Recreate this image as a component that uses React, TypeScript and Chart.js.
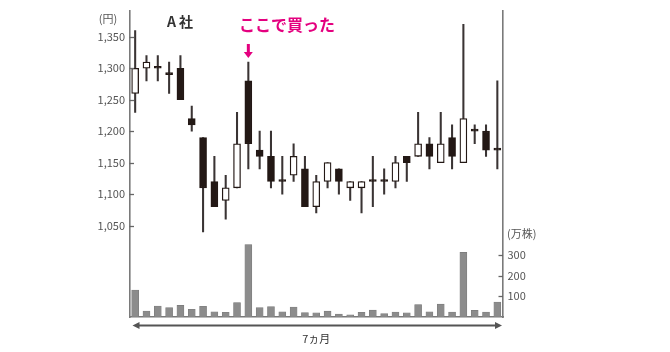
import React, { useEffect, useRef } from "react";
import { Chart, registerables } from "chart.js";

Chart.register(...registerables);

// ---- data ----
const days = [
  "1", "2", "3", "4", "5", "6", "7", "8", "9", "10", "11",
  "12", "13", "14", "15", "16", "17", "18", "19", "20", "21", "22",
  "23", "24", "25", "26", "27", "28", "29", "30", "31", "32", "33",
];
const openPrice = [
  1260, 1300, 1300, 1290, 1300, 1220, 1190, 1120, 1090, 1110, 1280,
  1170, 1160, 1120, 1130, 1140, 1080, 1120, 1140, 1110, 1110, 1120,
  1120, 1120, 1160, 1160, 1180, 1150, 1190, 1150, 1200, 1200, 1170,
];
const closePrice = [
  1300, 1310, 1300, 1290, 1250, 1210, 1110, 1080, 1110, 1180, 1180,
  1160, 1120, 1120, 1160, 1080, 1120, 1150, 1120, 1120, 1120, 1120,
  1120, 1150, 1150, 1180, 1160, 1180, 1160, 1220, 1200, 1170, 1170,
];
const highPrice = [
  1360, 1320, 1320, 1310, 1320, 1240, 1190, 1160, 1130, 1230, 1310,
  1200, 1200, 1160, 1180, 1160, 1130, 1150, 1140, 1120, 1120, 1160,
  1140, 1160, 1160, 1230, 1190, 1230, 1210, 1370, 1210, 1210, 1280,
];
const lowPrice = [
  1230, 1280, 1280, 1260, 1250, 1200, 1040, 1080, 1060, 1110, 1140,
  1140, 1110, 1100, 1120, 1080, 1070, 1110, 1100, 1090, 1070, 1080,
  1100, 1110, 1120, 1160, 1140, 1150, 1140, 1150, 1180, 1160, 1140,
];
const volume = [
  130, 29, 53, 45, 56, 37, 52, 25, 23, 70, 350,
  45, 50, 25, 48, 21, 20, 28, 14, 10, 23, 33,
  16, 24, 20, 60, 25, 62, 24, 312, 32, 24, 72,
];
const priceTicks = [1050, 1100, 1150, 1200, 1250, 1300, 1350];
const volumeTicks = [100, 200, 300];
const boughtIndex = 10;

const title = "A 社";
const boughtLabel = "ここで買った";
const periodLabel = "7ヵ月";
const priceUnit = "(円)";
const volumeUnit = "(万株)";

const INK = "#231815";
const AXIS = "#7a7a7a";
const PINK = "#e4007f";

export default function App() {
  const canvasRef = useRef<HTMLCanvasElement | null>(null);

  useEffect(() => {
    const canvas = canvasRef.current;
    if (!canvas) return;
    Chart.defaults.font.family = "'Noto Sans CJK JP', 'Noto Sans', sans-serif";

    const wickData = days.map((_, i) => [lowPrice[i], highPrice[i]]);
    const bodyData = days.map((_, i) => [openPrice[i], closePrice[i]]);
    const bodyFill = days.map((_, i) =>
      closePrice[i] > openPrice[i] ? "#ffffff" : INK
    );

    const decorPlugin = {
      id: "decor",
      afterDraw(chart: any) {
        const ctx = chart.ctx;
        const area = chart.chartArea;
        const ys = chart.scales.y;
        const y1 = chart.scales.y1;
        const xs = chart.scales.x;
        ctx.save();
        // inward tick marks
        ctx.strokeStyle = "#666";
        ctx.lineWidth = 1.3;
        ys.ticks.forEach((t: any) => {
          const p = Math.round(ys.getPixelForValue(t.value)) + 0.5;
          ctx.beginPath();
          ctx.moveTo(area.left, p);
          ctx.lineTo(area.left + 4.5, p);
          ctx.stroke();
        });
        y1.ticks.forEach((t: any) => {
          const p = Math.round(y1.getPixelForValue(t.value)) + 0.5;
          ctx.beginPath();
          ctx.moveTo(area.right - 4.5, p);
          ctx.lineTo(area.right, p);
          ctx.stroke();
        });

        // unit labels
        ctx.fillStyle = "#555";
        ctx.font = "11px 'Noto Sans CJK JP', sans-serif";
        ctx.textBaseline = "middle";
        ctx.textAlign = "center";
        ctx.fillText(priceUnit, 108, 19);
        ctx.textAlign = "left";
        ctx.fillText(volumeUnit, area.right + 4, 234);

        // title
        ctx.fillStyle = "#333";
        ctx.font = "bold 14px 'Noto Sans CJK JP', sans-serif";
        ctx.textAlign = "center";
        ctx.fillText(title, 180, 22);

        // bought label + arrow
        const bx = xs.getPixelForValue(boughtIndex);
        ctx.fillStyle = PINK;
        ctx.font = "bold 16px 'Noto Sans CJK JP', sans-serif";
        ctx.fillText(boughtLabel, 287, 25);
        const tipY = ys.getPixelForValue(highPrice[boughtIndex]) - 4;
        ctx.fillRect(bx - 1.5, tipY - 14, 3, 9);
        ctx.beginPath();
        ctx.moveTo(bx - 4.5, tipY - 6);
        ctx.lineTo(bx + 4.5, tipY - 6);
        ctx.lineTo(bx, tipY);
        ctx.closePath();
        ctx.fill();

        // period double arrow
        const ay = area.bottom + 8.5;
        const l = area.left + 3;
        const r = area.right - 1;
        ctx.strokeStyle = "#555";
        ctx.fillStyle = "#555";
        ctx.lineWidth = 2;
        ctx.beginPath();
        ctx.moveTo(l + 4, ay);
        ctx.lineTo(r - 4, ay);
        ctx.stroke();
        ctx.beginPath();
        ctx.moveTo(l, ay);
        ctx.lineTo(l + 7, ay - 3.5);
        ctx.lineTo(l + 7, ay + 3.5);
        ctx.closePath();
        ctx.fill();
        ctx.beginPath();
        ctx.moveTo(r, ay);
        ctx.lineTo(r - 7, ay - 3.5);
        ctx.lineTo(r - 7, ay + 3.5);
        ctx.closePath();
        ctx.fill();
        ctx.fillStyle = "#333";
        ctx.font = "11px 'Noto Sans CJK JP', sans-serif";
        ctx.textAlign = "center";
        ctx.fillText(periodLabel, (area.left + area.right) / 2, ay + 13);
        ctx.restore();
      },
    };

    const chart = new Chart(canvas, {
      type: "bar",
      data: {
        labels: days,
        datasets: [
          {
            label: "body",
            data: bodyData as any,
            yAxisID: "y",
            backgroundColor: bodyFill,
            borderColor: INK,
            borderWidth: 1.3,
            borderSkipped: false,
            barThickness: 7,
            minBarLength: 2,
            grouped: false,
            order: 0,
          } as any,
          {
            label: "wick",
            data: wickData as any,
            yAxisID: "y",
            backgroundColor: "#3a3434",
            borderWidth: 0,
            barThickness: 1.4,
            grouped: false,
            order: 1,
          } as any,
          {
            label: "volume",
            data: volume,
            yAxisID: "y1",
            backgroundColor: "#8c8c8c",
            borderColor: "#7a7a7a",
            borderWidth: 0.6,
            borderSkipped: false,
            barThickness: 7,
            grouped: false,
            order: 2,
          } as any,
        ],
      },
      options: {
        animation: false,
        responsive: false,
        devicePixelRatio: 1,
        layout: { padding: { left: 0, right: 0, top: 11, bottom: 35 } },
        plugins: { legend: { display: false }, tooltip: { enabled: false } },
        scales: {
          x: {
            display: true,
            offset: true,
            ticks: { display: false },
            grid: { display: false, drawTicks: false },
            border: { display: true, color: AXIS, width: 1.6 },
          },
          y: {
            position: "left",
            min: 904.6,
            max: 1390.9,
            afterBuildTicks: (s: any) => {
              s.ticks = priceTicks.map((v) => ({ value: v }));
            },
            afterFit: (s: any) => {
              s.width = 129.5;
            },
            ticks: {
              padding: 4.5,
              color: "#555",
              font: { size: 11 },
              callback: (v: any) => Number(v).toLocaleString("en-US"),
            },
            grid: { display: false, drawTicks: false },
            border: { display: true, color: AXIS, width: 1.6 },
          },
          y1: {
            position: "right",
            min: 0,
            max: 1477,
            afterBuildTicks: (s: any) => {
              s.ticks = volumeTicks.map((v) => ({ value: v }));
            },
            afterFit: (s: any) => {
              s.width = 167;
            },
            ticks: {
              padding: 4.5,
              color: "#555",
              font: { size: 11 },
              callback: (v: any) => String(v),
            },
            grid: { display: false, drawTicks: false },
            border: { display: true, color: AXIS, width: 1.6 },
          },
        },
      } as any,
      plugins: [decorPlugin],
    });

    return () => chart.destroy();
  }, []);

  return (
    <div style={{ position: "absolute", left: 0, top: 0, width: 670, height: 352, background: "#fff" }}>
      <canvas ref={canvasRef} width={670} height={352} />
    </div>
  );
}
